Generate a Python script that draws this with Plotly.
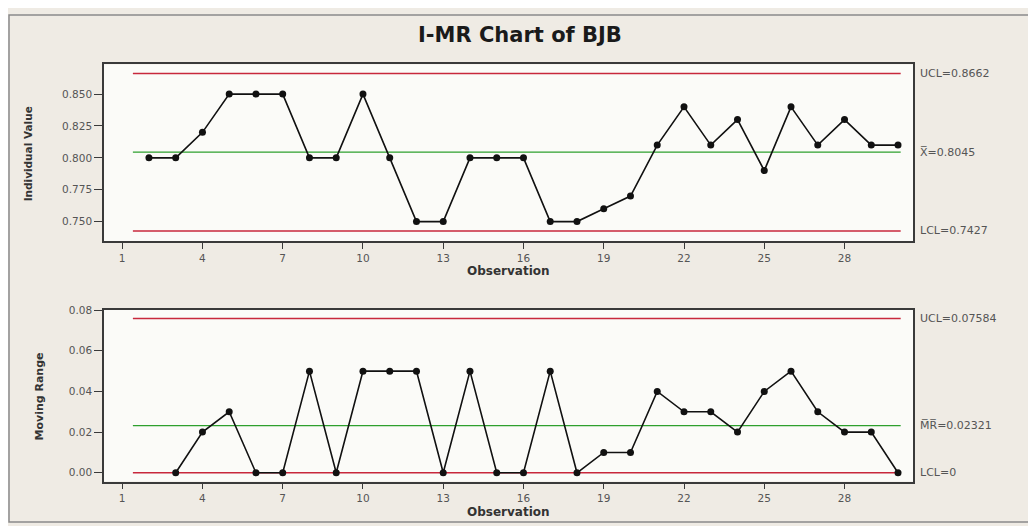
import plotly.graph_objects as go

# ---- data ----
ind_obs = [2, 3, 4, 5, 6, 7, 8, 9, 10, 11, 12, 13, 14, 15, 16,
           17, 18, 19, 20, 21, 22, 23, 24, 25, 26, 27, 28, 29, 30]
ind_values = [0.80, 0.80, 0.82, 0.85, 0.85, 0.85, 0.80, 0.80, 0.85, 0.80,
              0.75, 0.75, 0.80, 0.80, 0.80, 0.75, 0.75, 0.76, 0.77, 0.81,
              0.84, 0.81, 0.83, 0.79, 0.84, 0.81, 0.83, 0.81, 0.81]
mr_obs = [3, 4, 5, 6, 7, 8, 9, 10, 11, 12, 13, 14, 15, 16,
          17, 18, 19, 20, 21, 22, 23, 24, 25, 26, 27, 28, 29, 30]
mr_values = [0.00, 0.02, 0.03, 0.00, 0.00, 0.05, 0.00, 0.05, 0.05, 0.05,
             0.00, 0.05, 0.00, 0.00, 0.05, 0.00, 0.01, 0.01, 0.04, 0.03,
             0.03, 0.02, 0.04, 0.05, 0.03, 0.02, 0.02, 0.00]

ind_limits = {"UCL": 0.8662, "CL": 0.8045, "LCL": 0.7427}
mr_limits = {"UCL": 0.07584, "CL": 0.02321, "LCL": 0.0}
ind_limit_labels = ["UCL=0.8662", "X\u0305=0.8045", "LCL=0.7427"]
mr_limit_labels = ["UCL=0.07584", "M\u0305R\u0305=0.02321", "LCL=0"]

x_ticks = [1, 4, 7, 10, 13, 16, 19, 22, 25, 28]
ind_ticks = [0.750, 0.775, 0.800, 0.825, 0.850]
mr_ticks = [0.00, 0.02, 0.04, 0.06, 0.08]

title = "I-MR Chart of BJB"

# ---- figure ----
OFF = 8                      # page body margin of the html page
W, H = 1036 - OFF, 526 - OFF
RED = "#c8283c"
GREEN = "#2ea02e"
FONT = "DejaVu Sans"

fig = go.Figure()
line_x = [1.4, 30.1]

def add_panel(xa, ya, obs, vals, lim):
    fig.add_trace(go.Scatter(x=line_x, y=[lim["UCL"]] * 2, mode="lines",
                             line=dict(color=RED, width=1.5),
                             xaxis=xa, yaxis=ya, hoverinfo="skip"))
    fig.add_trace(go.Scatter(x=line_x, y=[lim["CL"]] * 2, mode="lines",
                             line=dict(color=GREEN, width=1.2),
                             xaxis=xa, yaxis=ya, hoverinfo="skip"))
    fig.add_trace(go.Scatter(x=line_x, y=[lim["LCL"]] * 2, mode="lines",
                             line=dict(color=RED, width=1.5),
                             xaxis=xa, yaxis=ya, hoverinfo="skip"))
    fig.add_trace(go.Scatter(x=obs, y=vals, mode="lines+markers",
                             line=dict(color="#111111", width=1.6),
                             marker=dict(color="#111111", size=7),
                             xaxis=xa, yaxis=ya))

add_panel("x", "y", ind_obs, ind_values, ind_limits)
add_panel("x2", "y2", mr_obs, mr_values, mr_limits)

# convert screen pixel positions of the reference into paper coordinates
px_x = lambda p: (p - OFF) / W
px_y = lambda p: 1 - (p - OFF) / H

xdom = [px_x(104), px_x(913)]
axis_common = dict(showline=True, mirror=True, linecolor="#3a3a3a", linewidth=1.5,
                   showgrid=False, zeroline=False, ticks="outside",
                   tickcolor="#3a3a3a", tickfont=dict(family=FONT, size=10.5, color="#555555"))

fig.update_layout(
    width=W, height=H,
    margin=dict(l=0, r=0, t=0, b=0),
    paper_bgcolor="#efebe4",
    plot_bgcolor="#fbfbf8",
    showlegend=False,
    xaxis=dict(domain=xdom, range=[0.32, 30.56], tickvals=x_ticks, anchor="y",
               ticklen=6, **axis_common),
    yaxis=dict(domain=[px_y(238), px_y(59)], range=[0.7345, 0.8733],
               tickvals=ind_ticks, tickformat=".3f", anchor="x", ticklen=8,
               **axis_common),
    xaxis2=dict(domain=xdom, range=[0.32, 30.56], tickvals=x_ticks, anchor="y2",
                ticklen=6, **axis_common),
    yaxis2=dict(domain=[px_y(481), px_y(307)], range=[-0.0043, 0.0803],
                tickvals=mr_ticks, tickformat=".2f", anchor="x2", ticklen=8,
                **axis_common),
)

ann = []
ann.append(dict(text="<b>" + title + "</b>", x=px_x(520), y=px_y(29), xref="paper",
                yref="paper", showarrow=False, font=dict(family=FONT, size=21,
                color="#1a1a1a"), xanchor="center", yanchor="middle"))
for yy in (268, 512):
    ann.append(dict(text="<b>Observation</b>", x=px_x(508), y=px_y(yy), xref="paper",
                    yref="paper", showarrow=False,
                    font=dict(family=FONT, size=12, color="#333333"),
                    xanchor="center", yanchor="middle"))
ann.append(dict(text="<b>Individual Value</b>", x=px_x(28), y=px_y(150), xref="paper",
                yref="paper", showarrow=False, textangle=-90,
                font=dict(family=FONT, size=10.5, color="#333333"),
                xanchor="center", yanchor="middle"))
ann.append(dict(text="<b>Moving Range</b>", x=px_x(40), y=px_y(395), xref="paper",
                yref="paper", showarrow=False, textangle=-90,
                font=dict(family=FONT, size=11, color="#333333"),
                xanchor="center", yanchor="middle"))
for lab, key in zip(ind_limit_labels, ["UCL", "CL", "LCL"]):
    ann.append(dict(text=lab, x=px_x(918), y=ind_limits[key], xref="paper", yref="y",
                    showarrow=False, xanchor="left", yanchor="middle",
                    font=dict(family=FONT, size=11, color="#555555")))
for lab, key in zip(mr_limit_labels, ["UCL", "CL", "LCL"]):
    ann.append(dict(text=lab, x=px_x(918), y=mr_limits[key], xref="paper", yref="y2",
                    showarrow=False, xanchor="left", yanchor="middle",
                    font=dict(family=FONT, size=11, color="#555555")))
fig.update_layout(annotations=ann)

fig.add_shape(type="rect", xref="paper", yref="paper",
              x0=px_x(9), x1=px_x(1030), y0=px_y(522), y1=px_y(9),
              line=dict(color="#8a8a8a", width=1.5), fillcolor="rgba(0,0,0,0)",
              layer="below")

fig.write_html("out.html")
